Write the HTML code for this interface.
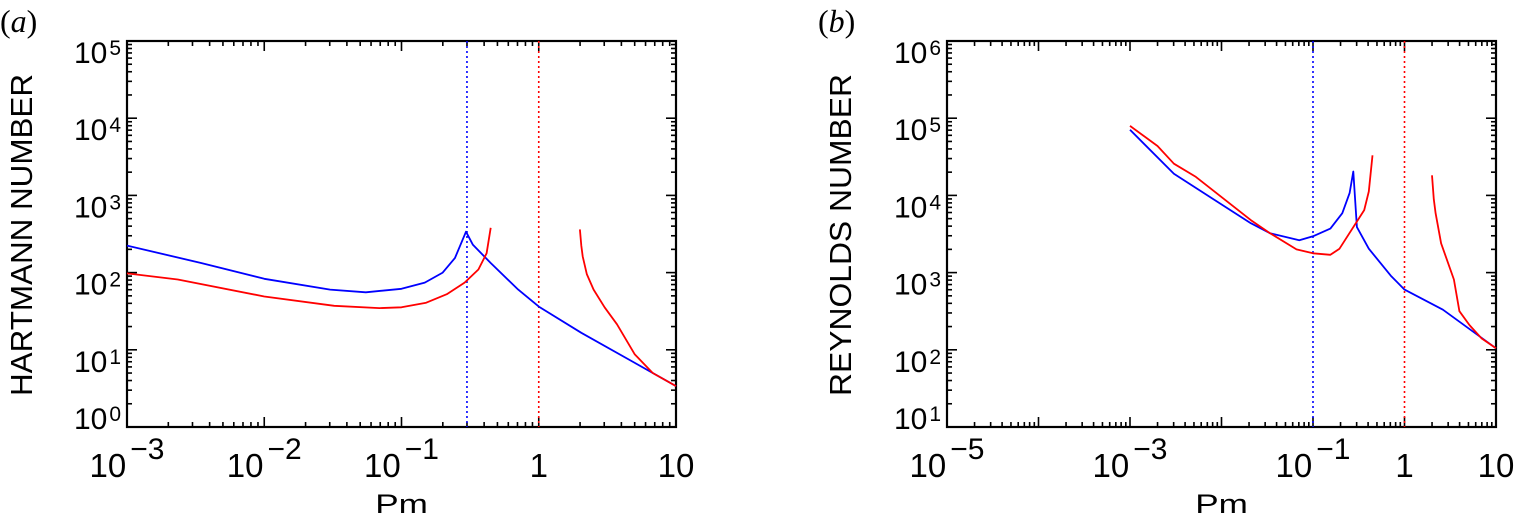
<!DOCTYPE html>
<html><head><meta charset="utf-8">
<style>
html,body{margin:0;padding:0;background:#fff;}
svg{display:block;}
text{font-family:"Liberation Sans",sans-serif;fill:#000;}
</style></head>
<body>
<svg id="chart" width="1514" height="518" viewBox="0 0 1514 518" xmlns="http://www.w3.org/2000/svg"></svg>
<script>
// ---- Panel (a) data: log10(Pm), log10(Hartmann) ----
const aBlueX = [-3,-2.46,-2.0,-1.52,-1.26,-1.0,-0.83,-0.70,-0.61,-0.53,-0.48,-0.35,-0.15,0,0.31,0.70,1];
const aBlueY = [2.35,2.125,1.92,1.78,1.745,1.79,1.87,2.0,2.19,2.53,2.36,2.125,1.78,1.56,1.22,0.83,0.53];
const aRed1X = [-3,-2.63,-2.0,-1.49,-1.16,-1.0,-0.82,-0.67,-0.54,-0.44,-0.38,-0.35];
const aRed1Y = [1.99,1.91,1.69,1.57,1.54,1.55,1.61,1.72,1.87,2.04,2.25,2.58];
const aRed2X = [0.30,0.31,0.32,0.35,0.40,0.48,0.57,0.70,0.83,1];
const aRed2Y = [2.56,2.35,2.21,1.98,1.78,1.55,1.33,0.94,0.70,0.53];
const aVLines = [-0.523, 0];
// ---- Panel (b) data: log10(Pm), log10(Reynolds) ----
const bBlueX = [-3,-2.52,-2.1,-1.68,-1.47,-1.15,-1.0,-0.81,-0.68,-0.6,-0.56,-0.52,-0.39,-0.15,0,0.42,1];
const bBlueY = [4.85,4.28,3.96,3.64,3.51,3.42,3.47,3.57,3.77,4.03,4.31,3.59,3.31,2.96,2.78,2.52,2.02];
const bRed1X = [-3,-2.7,-2.52,-2.28,-1.68,-1.47,-1.18,-1.0,-0.81,-0.71,-0.44,-0.39,-0.35];
const bRed1Y = [4.90,4.64,4.41,4.24,3.68,3.51,3.30,3.25,3.23,3.31,3.81,4.05,4.52];
const bRed2X = [0.30,0.32,0.34,0.40,0.54,0.60,0.71,0.84,1];
const bRed2Y = [4.26,3.95,3.77,3.38,2.91,2.50,2.32,2.15,2.02];
const bVLines = [-1, 0];
// tick labels
const aXTicks = [-3,-2,-1,0,1];
const aYTicks = [5,4,3,2,1,0];
const bXTicks = [-5,-3,-1,0,1];
const bYTicks = [6,5,4,3,2,1];

const NS = "http://www.w3.org/2000/svg";
const svg = document.getElementById("chart");
function mk(tag, attrs, parent){
  const e = document.createElementNS(NS, tag);
  for (const k in attrs) e.setAttribute(k, attrs[k]);
  (parent||svg).appendChild(e);
  return e;
}
function expLabel(parent, x, y, exp, size, supSize, supDy, supDx, anchor){
  const t = mk("text", {x:x, y:y, "font-size":size, "text-anchor":anchor}, parent);
  if (exp === 0 && parent.dataset.kind === "x") { t.textContent = "1"; return t; }
  if (exp === 1 && parent.dataset.kind === "x") { t.textContent = "10"; return t; }
  const s1 = document.createElementNS(NS, "tspan"); s1.textContent = "10"; t.appendChild(s1);
  const s2 = document.createElementNS(NS, "tspan");
  s2.setAttribute("font-size", supSize); s2.setAttribute("dy", supDy); s2.setAttribute("dx", supDx);
  s2.textContent = String(exp).replace("-", "\u2212");
  t.appendChild(s2);
  return t;
}

function panel(cfg){
  const g = mk("g", {});
  
  
  const L=cfg.left, R=cfg.right, T=41, B=427;
  const sx = v => L + (v - cfg.xmin)/(cfg.xmax - cfg.xmin)*(R-L);
  const sy = v => B - (v - cfg.ymin)/(cfg.ymax - cfg.ymin)*(B-T);

  const tg = mk("g", {stroke:"#000","stroke-width":1.6}, g);
  
  
  for (let d=cfg.xmin; d<=cfg.xmax; d++){
    for (let m=1; m<=9; m++){
      const v = d + Math.log10(m);
      if (v > cfg.xmax + 1e-9) break;
      const len = m===1 ? 10 : 5, x = sx(v);
      mk("line",{x1:x,y1:B,x2:x,y2:B-len},tg);
      mk("line",{x1:x,y1:T,x2:x,y2:T+len},tg);
    }
  }
  for (let d=cfg.ymin; d<=cfg.ymax; d++){
    for (let m=1; m<=9; m++){
      const v = d + Math.log10(m);
      if (v > cfg.ymax + 1e-9) break;
      const len = m===1 ? 10 : 5, y = sy(v);
      mk("line",{x1:L,y1:y,x2:L+len,y2:y},tg);
      mk("line",{x1:R,y1:y,x2:R-len,y2:y},tg);
    }
  }
  const fr = mk("rect",{x:L,y:T,width:R-L,height:B-T,fill:"none",stroke:"#000","stroke-width":2.2},g);
  
  

  cfg.vlines.forEach((v,i)=>{
    const x = sx(v);
    const ln = mk("line",{x1:x,y1:T,x2:x,y2:B,stroke:i===0?"#0000ff":"#ff0000","stroke-width":1.6,"stroke-dasharray":"2 3"},g);
    
    
  });

  cfg.series.forEach(s=>{
    const pts = s.x.map((v,i)=> sx(v).toFixed(1)+","+sy(s.y[i]).toFixed(1)).join(" ");
    const pl = mk("polyline",{points:pts,fill:"none",stroke:s.color,"stroke-width":1.8,"stroke-linejoin":"round"},g);
    
    
  });

  const xl = mk("g",{},g); xl.dataset.kind = "x";
  
  
  cfg.xticks.forEach(v=>{
    const x = sx(v);
    const t = expLabel(xl, x, 477, v, 33, 30, -18, 4, "middle");
    
    
  });
  const yl = mk("g",{},g); yl.dataset.kind = "y";
  
  
  cfg.yticks.forEach(v=>{
    const y = Math.min(sy(v)+22, B+2);
    const t = expLabel(yl, L-6, y, v, 30, 21, -8, 2, "end");
    
    
  });
  const xt = mk("text",{x:0, y:0, "font-size":27, "text-anchor":"middle", transform:`translate(${(L+R)/2},513) scale(1.3,1)`},g);
  xt.textContent = "Pm";
  
  
  const cy = 235;
  const yt = mk("text",{x:0,y:0,"font-size":31,"text-anchor":"middle",textLength:322,lengthAdjust:"spacingAndGlyphs",transform:`translate(${cfg.ytitleX},${cy}) rotate(-90)`},g);
  yt.textContent = cfg.ytitle;
  
  
  const pl = mk("text",{x:cfg.tagX,y:32,"font-size":32},g);
  pl.setAttribute("style","font-family:'Liberation Serif',serif");
  const a1 = document.createElementNS(NS,"tspan"); a1.textContent="("; pl.appendChild(a1);
  const a2 = document.createElementNS(NS,"tspan"); a2.setAttribute("font-style","italic"); a2.textContent=cfg.tag; pl.appendChild(a2);
  const a3 = document.createElementNS(NS,"tspan"); a3.textContent=")"; pl.appendChild(a3);
  
  
}

panel({name:"panel-a", left:127, right:676, xmin:-3, xmax:1, ymin:0, ymax:5,
  vlines:aVLines, xticks:aXTicks, yticks:aYTicks, ytitle:"HARTMANN  NUMBER", ytitleX:32, tag:"a", tagX:0,
  series:[{name:"blue-curve",color:"#0000ff",x:aBlueX,y:aBlueY},
          {name:"red-curve-low",color:"#ff0000",x:aRed1X,y:aRed1Y},
          {name:"red-curve-high",color:"#ff0000",x:aRed2X,y:aRed2Y}]});
panel({name:"panel-b", left:947, right:1496, xmin:-5, xmax:1, ymin:1, ymax:6,
  vlines:bVLines, xticks:bXTicks, yticks:bYTicks, ytitle:"REYNOLDS  NUMBER", ytitleX:851, tag:"b", tagX:818,
  series:[{name:"blue-curve",color:"#0000ff",x:bBlueX,y:bBlueY},
          {name:"red-curve-low",color:"#ff0000",x:bRed1X,y:bRed1Y},
          {name:"red-curve-high",color:"#ff0000",x:bRed2X,y:bRed2Y}]});
</script>
</body></html>
